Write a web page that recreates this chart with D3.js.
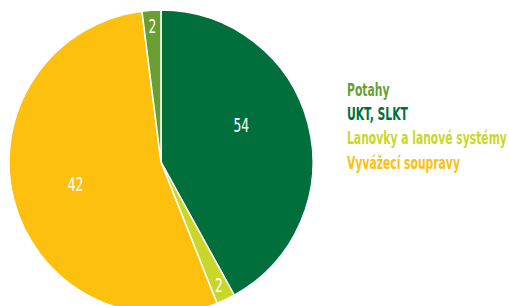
<!DOCTYPE html>
<html>
<head>
<meta charset="utf-8">
<script src="https://cdn.jsdelivr.net/npm/d3@7"></script>
<style>
html,body{margin:0;padding:0;background:#fff;}
svg{display:block;}
</style>
</head>
<body>
<svg id="chart" width="509" height="306"></svg>
<script>
// Slices drawn clockwise from 12 o'clock
const sliceCategories = ["UKT, SLKT", "Lanovky a lanové systémy", "Vyvážecí soupravy", "Potahy"];
const sliceValues = [42, 2, 54, 2];
const sliceLabels = ["54", "2", "42", "2"];
// Legend
const legendCategories = ["Potahy", "UKT, SLKT", "Lanovky a lanové systémy", "Vyvážecí soupravy"];
const colors = {
  "Potahy": "#6a9e33",
  "UKT, SLKT": "#006f3c",
  "Lanovky a lanové systémy": "#c9d72b",
  "Vyvážecí soupravy": "#fdc00f"
};

const FONT = "'DejaVu Sans Condensed','DejaVu Sans',sans-serif";
const svg = d3.select("#chart");
const cx = 161, cy = 162, R = 152;
const g = svg.append("g").attr("transform", `translate(${cx},${cy})`);

const data = sliceCategories.map((c, i) => ({cat: c, value: sliceValues[i], label: sliceLabels[i]}));
const pie = d3.pie().sort(null).value(d => d.value);
const arcs = pie(data);
const arc = d3.arc().innerRadius(0).outerRadius(R);

g.selectAll("path.slice").data(arcs).join("path")
  .attr("class", "slice")
  .attr("d", arc)
  .attr("fill", d => colors[d.data.cat])
  .attr("stroke", "#fff")
  .attr("stroke-width", 1.5);

const angleShift = {"UKT, SLKT": -10 * Math.PI / 180};
const labelPos = arcs.map(d => {
  const small = (d.endAngle - d.startAngle) < 0.3;
  const r = small ? R * 0.895 : R * 0.58;
  const a = (d.startAngle + d.endAngle) / 2 + (angleShift[d.data.cat] || 0);
  return {x: r * Math.sin(a), y: -r * Math.cos(a), label: d.data.label};
});

const labelG = svg.append("g").attr("transform", `translate(${cx},${cy})`);
labelPos.forEach(p => {
  labelG.append("text")
    .attr("transform", `translate(${p.x},${p.y}) scale(0.72,1)`)
    .attr("text-anchor", "middle")
    .attr("dy", "0.36em")
    .attr("fill", "#ffffff")
    .style("font-family", FONT)
    .style("font-size", "19px")
    .style("font-weight", "400")
    .text(p.label);
});

const legend = svg.append("g").attr("transform", "translate(347,0)");
const items = legend.selectAll("text.leg").data(legendCategories).join("text")
  .attr("class", "leg")
  .attr("x", 0)
  .attr("y", (d, i) => 96 + i * 24.2)
  .attr("fill", d => colors[d])
  .style("font-family", FONT)
  .style("font-size", "18px")
  .style("font-weight", "600")
  .text(d => d);
let maxW = 0;
items.each(function() { maxW = Math.max(maxW, this.getComputedTextLength()); });
const sx = maxW > 0 ? 160 / maxW : 1;
legend.attr("transform", `translate(347,0) scale(${sx},1)`);
</script>
</body>
</html>
